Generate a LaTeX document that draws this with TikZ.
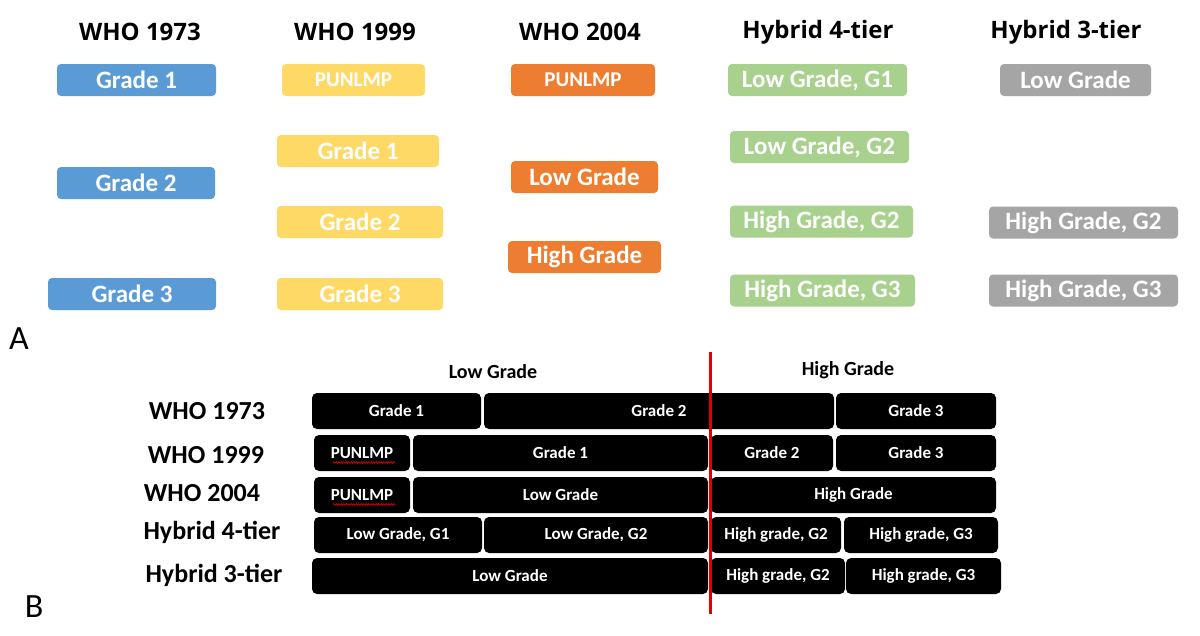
\documentclass[tikz,border=0pt]{standalone}
\usepackage{fontspec}
\setmainfont{Carlito}
\newfontfamily\headfont{Open Sans}
\usepackage{tikz}
\usetikzlibrary{positioning}
\usetikzlibrary{decorations.pathmorphing}
\usepackage{xcolor}
\definecolor{gblue}{HTML}{5B9BD5}
\definecolor{gyellow}{HTML}{FFD966}
\definecolor{gorange}{HTML}{ED7D31}
\definecolor{ggreen}{HTML}{A9D18E}
\definecolor{ggray}{HTML}{A5A5A5}
\definecolor{gred}{HTML}{E00000}

\begin{document}
\begin{tikzpicture}[
  x=1pt, y=-1pt,
  head/.style={font=\headfont\bfseries\fontsize{24}{28}\selectfont},
  abox/.style={rounded corners=4pt, text=white, inner sep=0pt, minimum height=32,
    font=\bfseries\fontsize{25}{30}\selectfont},
  pbox/.style={abox, font=\bfseries\fontsize{21}{25}\selectfont},
  bbox/.style={fill=black, rounded corners=5pt, text=white, inner sep=0pt, minimum height=36,
    font=\bfseries\fontsize{17}{20}\selectfont},
  rowlabel/.style={font=\bfseries\fontsize{26}{30}\selectfont},
  bhead/.style={font=\bfseries\fontsize{20}{24}\selectfont},
  panel/.style={font=\fontsize{34}{40}\selectfont},
  divider/.style={draw=gred, line width=3pt},
  squiggle/.style={draw=gred, line width=0.6pt, decorate,
    decoration={snake, amplitude=1pt, segment length=2.5pt}}
]
\useasboundingbox[fill=white] (0,0) rectangle (1200,635);

% Panel A: column heads
\node[head] (hA1) at (140,32) {WHO 1973};
\node[head] (hA2) at (355,32) {WHO 1999};
\node[head] (hA3) at (580,32) {WHO 2004};
\node[head] (hA4) at (818,32) {Hybrid 4-tier};
\node[head] (hA5) at (1066,32) {Hybrid 3-tier};

% WHO 1973
\node[abox, fill=gblue, minimum width=159] (b1) at (136.5,80) {Grade 1};
\node[abox, fill=gblue, minimum width=158] (b2) at (136,183) {Grade 2};
\node[abox, fill=gblue, minimum width=168] (b3) at (132,294) {Grade 3};

% WHO 1999
\node[pbox, fill=gyellow, minimum width=143] (y1) at (353.5,80) {PUNLMP};
\node[abox, fill=gyellow, minimum width=162] (y2) at (358,151) {Grade 1};
\node[abox, fill=gyellow, minimum width=166] (y3) at (360,222) {Grade 2};
\node[abox, fill=gyellow, minimum width=166] (y4) at (360,294) {Grade 3};

% WHO 2004
\node[pbox, fill=gorange, minimum width=144] (o1) at (583,80) {PUNLMP};
\node[abox, fill=gorange, minimum width=147] (o2) at (584.5,177) {Low Grade};
\node[abox, fill=gorange, minimum width=153] (o3) at (584.5,257) {High Grade};

% Hybrid 4-tier
\node[abox, fill=ggreen, minimum width=179] (g1) at (817.5,80) {Low Grade, G1};
\node[abox, fill=ggreen, minimum width=179] (g2) at (819.5,147) {Low Grade, G2};
\node[abox, fill=ggreen, minimum width=183] (g3) at (821.5,221.5) {High Grade, G2};
\node[abox, fill=ggreen, minimum width=185] (g4) at (822.5,290.5) {High Grade, G3};

% Hybrid 3-tier
\node[abox, fill=ggray, minimum width=151] (r1) at (1075.5,80) {Low Grade};
\node[abox, fill=ggray, minimum width=189] (r2) at (1083.5,222.5) {High Grade, G2};
\node[abox, fill=ggray, minimum width=189] (r3) at (1083.5,290.5) {High Grade, G3};

\node[panel] (pA) at (19,339) {A};

% Panel B
\node[bhead] (lowhead) at (493,372) {Low Grade};
\node[bhead] (highhead) at (848,370) {High Grade};

\node[rowlabel] (l1) at (207,411) {WHO 1973};
\node[rowlabel] (l2) at (206,455) {WHO 1999};
\node[rowlabel] (l3) at (202,493) {WHO 2004};
\node[rowlabel] (l4) at (212,532) {Hybrid 4-tier};
\node[rowlabel] (l5) at (214,575) {Hybrid 3-tier};

\node[bbox, minimum width=169] (w73a) at (396.5,411) {Grade 1};
\node[bbox, minimum width=350] (w73b) at (659,411) {Grade 2};
\node[bbox, minimum width=160] (w73c) at (916,411) {Grade 3};

\node[bbox, minimum width=96] (w99a) at (362,453) {PUNLMP};
\node[bbox, minimum width=295] (w99b) at (560.5,453) {Grade 1};
\node[bbox, minimum width=122] (w99c) at (772,453) {Grade 2};
\node[bbox, minimum width=160] (w99d) at (916,453) {Grade 3};

\node[bbox, minimum width=96] (w04a) at (362,495) {PUNLMP};
\node[bbox, minimum width=295] (w04b) at (560.5,495) {Low Grade};
\node[bbox, minimum width=285] (w04c) at (853.5,495) {High Grade};

\node[bbox, minimum width=168] (h4a) at (398,535) {Low Grade, G1};
\node[bbox, minimum width=224] (h4b) at (596,535) {Low Grade, G2};
\node[bbox, minimum width=130] (h4c) at (776,535) {High grade, G2};
\node[bbox, minimum width=154] (h4d) at (921,535) {High grade, G3};

\node[bbox, minimum width=396] (h3a) at (510,576) {Low Grade};
\node[bbox, minimum width=134] (h3b) at (778,576) {High grade, G2};
\node[bbox, minimum width=155] (h3c) at (923.5,576) {High grade, G3};

% spell-check marks under PUNLMP
\draw[squiggle] (333,462.5) -- (395,462.5);
\draw[squiggle] (333,504.5) -- (395,504.5);

% low / high split
\coordinate (cuttop) at (710,352);
\coordinate (cutbot) at (710,614);
\draw[divider] (cuttop) -- (cutbot);

\node[panel] (pB) at (34,607) {B};
\end{tikzpicture}
\end{document}
